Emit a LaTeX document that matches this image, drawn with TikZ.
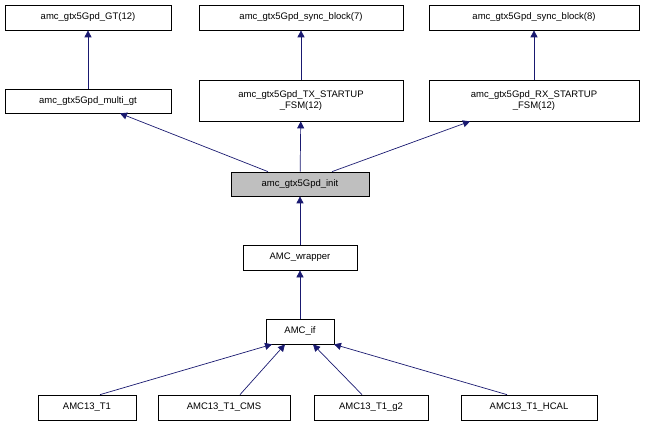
\documentclass[tikz,border=0pt]{standalone}
\usepackage{fontspec}
\setmainfont{Liberation Sans}
\usetikzlibrary{arrows.meta}
\definecolor{edge}{HTML}{191970}
\begin{document}
\begin{tikzpicture}[x=1pt,y=-1pt,
  box/.style={draw=black,fill=white,line width=0.7pt,inner sep=0pt,font=\fontsize{9.5}{11}\selectfont,align=center},
  arr/.style={draw=edge,line width=0.7pt,-{Triangle[length=7pt,width=7pt]}}]
\useasboundingbox (0,0) rectangle (646,425);
\def\bx#1#2#3#4#5#6{\node[box,minimum width=#4-#2,minimum height=#5-#3] (#1) at ({(#2+#4)/2},{(#3+#5)/2}) {#6};}
\bx{gt}{5}{5}{171}{30}{amc\_gtx5Gpd\_GT(12)}
\bx{multi}{5}{89}{171}{113}{amc\_gtx5Gpd\_multi\_gt}
\bx{s7}{199}{5}{403}{30}{amc\_gtx5Gpd\_sync\_block(7)}
\bx{tx}{199}{80}{403}{121}{amc\_gtx5Gpd\_TX\_STARTUP\\\_FSM(12)}
\bx{s8}{429}{5}{639}{30}{amc\_gtx5Gpd\_sync\_block(8)}
\bx{rx}{429}{80}{639}{121}{amc\_gtx5Gpd\_RX\_STARTUP\\\_FSM(12)}
\node[box,fill=black!25,minimum width=138,minimum height=24] (init) at (300,184) {amc\_gtx5Gpd\_init};
\bx{wr}{243}{245}{357}{270}{AMC\_wrapper}
\bx{if}{266}{319}{334}{344}{AMC\_if}
\bx{t1}{38}{395}{136}{420}{AMC13\_T1}
\bx{cms}{158}{395}{290}{420}{AMC13\_T1\_CMS}
\bx{g2}{314}{395}{428}{420}{AMC13\_T1\_g2}
\bx{hcal}{461}{395}{597}{420}{AMC13\_T1\_HCAL}
\draw[arr] (multi) -- (gt);
\draw[arr] (tx) -- (s7);
\draw[arr] (rx) -- (s8);
\draw[arr] (init.north -| 268,0) -- (multi.south -| 120,0);
\draw[arr] (init) -- (tx);
\draw[arr] (init.north -| 332,0) -- (rx.south -| 470,0);
\draw[arr] (wr) -- (init);
\draw[arr] (if) -- (wr);
\draw[arr] (t1.north -| 100,0) -- (if.south -| 272,0);
\draw[arr] (cms.north -| 240,0) -- (if.south -| 285,0);
\draw[arr] (g2.north -| 362,0) -- (if.south -| 313,0);
\draw[arr] (hcal.north -| 507,0) -- (if.south -| 334,0);
\end{tikzpicture}
\end{document}
